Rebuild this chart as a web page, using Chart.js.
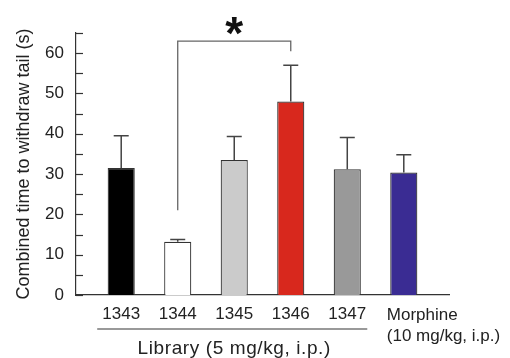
<!DOCTYPE html>
<html><head><meta charset="utf-8">
<script src="https://cdn.jsdelivr.net/npm/chart.js@4/dist/chart.umd.min.js"></script>
<style>html,body{margin:0;padding:0;background:#fff}#wrap{width:510px;height:358px;position:relative}</style>
</head><body><div id="wrap"><canvas id="c" width="510" height="358"></canvas></div>
<script>
const categories = ['1343', '1344', '1345', '1346', '1347', 'Morphine'];
const categoryLines = [['1343'], ['1344'], ['1345'], ['1346'], ['1347'], ['Morphine', '(10 mg/kg, i.p.)']];
const meanTime = [31.5, 13.2, 33.5, 48.0, 31.2, 30.4];
const semTime = [8.0, 0.6, 5.8, 9.0, 7.9, 4.4];
const barColors = ['#000000', '#ffffff', '#cbcbcb', '#d8281d', '#999999', '#3a2c93'];
const yTitle = 'Combined time to withdraw tail (s)';
const groupLabel = 'Library (5 mg/kg, i.p.)';
const groupRange = [0, 4];
const sigPair = [1, 3];
const sigBracketTop = 63;
const sigLegEnds = [21, 60.5];
const sigMark = '*';

const FAM = '"Liberation Sans", Arial, Helvetica, sans-serif';

const overlay = {
  id: 'overlay',
  afterDraw(chart) {
    const ctx = chart.ctx;
    const xs = chart.scales.x, ys = chart.scales.y;
    const area = chart.chartArea;
    ctx.save();
    // inward tick marks on y axis
    ctx.strokeStyle = '#333';
    ctx.lineWidth = 1.2;
    ys.ticks.forEach(t => {
      const y = Math.round(ys.getPixelForValue(t.value)) + 0.5;
      ctx.beginPath();
      ctx.moveTo(area.left, y);
      ctx.lineTo(area.left + 7, y);
      ctx.stroke();
    });
    // error bars
    ctx.strokeStyle = '#444';
    ctx.lineWidth = 1.5;
    meanTime.forEach((v, i) => {
      const x = xs.getPixelForValue(i);
      const y0 = ys.getPixelForValue(v);
      const y1 = ys.getPixelForValue(v + semTime[i]);
      ctx.beginPath();
      ctx.moveTo(x, y0);
      ctx.lineTo(x, y1);
      ctx.moveTo(x - 7.5, y1);
      ctx.lineTo(x + 7.5, y1);
      ctx.stroke();
    });
    // significance bracket
    const bx0 = xs.getPixelForValue(sigPair[0]);
    const bx1 = xs.getPixelForValue(sigPair[1]);
    const by = ys.getPixelForValue(sigBracketTop);
    ctx.strokeStyle = '#666';
    ctx.lineWidth = 1.3;
    ctx.beginPath();
    ctx.moveTo(bx0, ys.getPixelForValue(sigLegEnds[0]));
    ctx.lineTo(bx0, by);
    ctx.lineTo(bx1, by);
    ctx.lineTo(bx1, ys.getPixelForValue(sigLegEnds[1]));
    ctx.stroke();
    ctx.fillStyle = '#111';
    ctx.font = 'bold 46px ' + FAM;
    ctx.textAlign = 'center';
    ctx.textBaseline = 'alphabetic';
    ctx.fillText(sigMark, (bx0 + bx1) / 2, by + 8);
    // x labels
    ctx.fillStyle = '#222';
    ctx.font = '17px ' + FAM;
    const halfBar = 17;
    categoryLines.forEach((lines, i) => {
      const x = xs.getPixelForValue(i);
      if (lines.length > 1) {
        ctx.textAlign = 'left';
        lines.forEach((s, k) => ctx.fillText(s, x - halfBar, area.bottom + 25 + k * 21));
      } else {
        ctx.textAlign = 'center';
        ctx.fillText(lines[0], x, area.bottom + 24);
      }
    });
    // group line and label
    const gx0 = xs.getPixelForValue(groupRange[0]) - 24;
    const gx1 = xs.getPixelForValue(groupRange[1]) + 20;
    ctx.strokeStyle = '#777';
    ctx.lineWidth = 1.5;
    ctx.beginPath();
    ctx.moveTo(gx0, area.bottom + 34);
    ctx.lineTo(gx1, area.bottom + 34);
    ctx.stroke();
    ctx.font = '19px ' + FAM;
    ctx.textAlign = 'center';
    try { ctx.letterSpacing = '0.6px'; } catch (e) {}
    ctx.fillText(groupLabel, (xs.getPixelForValue(groupRange[0]) + xs.getPixelForValue(groupRange[1])) / 2, area.bottom + 59);
    ctx.restore();
  }
};

new Chart(document.getElementById('c').getContext('2d'), {
  type: 'bar',
  data: {
    datasets: [{
      data: meanTime.map((v, i) => ({ x: i, y: v })),
      backgroundColor: barColors,
      borderColor: '#333',
      borderWidth: 1.2,
      barPercentage: 0.6,
      categoryPercentage: 1
    }]
  },
  options: {
    responsive: false,
    animation: false,
    devicePixelRatio: 1,
    layout: { padding: { top: 33, right: 61, left: 0, bottom: 0 } },
    plugins: { legend: { display: false }, tooltip: { enabled: false } },
    scales: {
      x: {
        type: 'linear', min: -0.8, max: 5.8, offset: false,
        grid: { display: false, drawTicks: false, offset: false },
        border: { display: true, color: '#333', width: 1.2 },
        ticks: { display: false },
        afterFit: s => { s.height = 63; }
      },
      y: {
        min: 0, max: 65,
        grid: { display: false, drawTicks: false },
        border: { display: true, color: '#333', width: 1.2 },
        ticks: {
          stepSize: 5, autoSkip: false, padding: 12, color: '#222',
          font: { family: FAM, size: 17 },
          callback: v => (v % 10 === 0 ? v : '')
        },
        title: { display: true, text: yTitle, color: '#222', font: { family: FAM, size: 18 }, padding: { top: 13, bottom: 0 } },
        afterFit: s => { s.width = 76; }
      }
    }
  },
  plugins: [overlay]
});
</script></body></html>
